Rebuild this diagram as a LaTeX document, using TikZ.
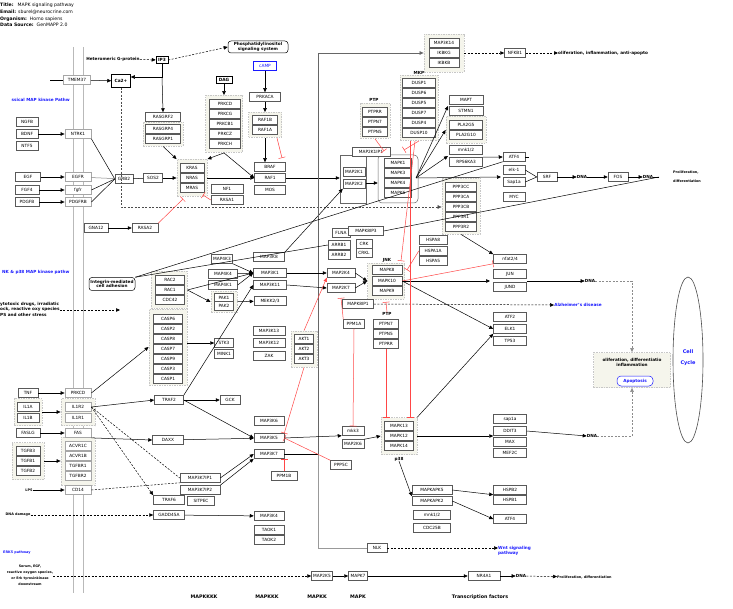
\documentclass[tikz,border=0pt]{standalone}
\usepackage{fontspec}
\setmainfont{DejaVu Sans}
\usetikzlibrary{arrows.meta,shapes.geometric}
\definecolor{grpfill}{RGB}{245,245,236}
\definecolor{inhred}{RGB}{255,70,70}
\definecolor{linkblue}{RGB}{25,25,255}
\definecolor{membgray}{RGB}{185,185,185}
\tikzset{
  gene/.style={draw=black!65, fill=white, line width=0.5pt, inner sep=0pt,
    minimum height=9pt, minimum width=30pt, font=\fontsize{4.3}{5}\selectfont},
  gw/.style={minimum width=#1pt},
  memb/.style={gene, draw=black!35, line width=0.8pt},
  grp/.style={draw=black!22, dash pattern=on 1.5pt off 1pt, fill=grpfill, line width=0.8pt, inner sep=0pt},
  lbl/.style={inner sep=0pt, font=\fontsize{4.2}{5}\selectfont\bfseries},
  blbl/.style={lbl, text=linkblue},
  hdr/.style={inner sep=0pt, anchor=west, font=\fontsize{4.6}{5.5}\selectfont},
  arr/.style={-{Triangle[length=4pt,width=3.5pt]}, line width=0.5pt},
  inh/.style={-{Bar[width=7pt]}, draw=inhred, line width=0.5pt},
  dsh/.style={dash pattern=on 2pt off 1.5pt}
}
\begin{document}
\begin{tikzpicture}[x=1pt,y=-1pt]
\useasboundingbox (0,0) rectangle (733,609);

% header
\node[hdr] (hd1) at (0,5) {\textbf{Title:}\hspace{4pt}MAPK signaling pathway};
\node[hdr] (hd2) at (0,12) {\textbf{Email:}\hspace{2pt}sburel@neurocrine.com};
\node[hdr] (hd3) at (0,19) {\textbf{Organism:}\hspace{3pt}Homo sapiens};
\node[hdr] (hd4) at (0,25) {\textbf{Data Source:}\hspace{3pt}GenMAPP 2.0};

% membrane
\draw[membgray, line width=0.8pt] (73,47) -- (73,593);
\draw[membgray, line width=0.8pt] (83,47) -- (83,593);

% group boxes
\node[grp,minimum width=40pt,minimum height=24pt] (g_rasgrp) at (163,134) {};
\node[grp,minimum width=37pt,minimum height=57pt] (g_prkc) at (224,124) {};
\node[grp,minimum width=33pt,minimum height=25pt] (g_raf) at (265,125) {};
\node[grp,minimum width=30pt,minimum height=37pt] (g_kras) at (192,178) {};
\node[grp,minimum width=40pt,minimum height=38pt] (g_map3k14) at (444,53) {};
\node[grp,minimum width=38pt,minimum height=65pt] (g_mkp) at (419,108) {};
\node[grp,minimum width=30pt,minimum height=35pt] (g_ptp) at (375,121) {};
\node[grp,minimum width=40pt,minimum height=27pt] (g_pla) at (466,130) {};
\node[grp,minimum width=38pt,minimum height=56pt] (g_ppp3) at (461,206) {};
\node[grp,minimum width=37pt,minimum height=36pt] (g_jnk) at (386,281) {};
\node[grp,minimum width=36pt,minimum height=37pt] (g_rac) at (169,290) {};
\node[grp,minimum width=26pt,minimum height=21pt] (g_pak) at (224,302) {};
\node[grp,minimum width=38pt,minimum height=76pt] (g_casp) at (168,347) {};
\node[grp,minimum width=26pt,minimum height=36pt] (g_akt) at (304,349) {};
\node[grp,minimum width=28pt,minimum height=27pt] (g_il1a) at (28,412) {};
\node[grp,minimum width=34pt,minimum height=27pt] (g_il1r) at (78,412) {};
\node[grp,minimum width=32pt,minimum height=37pt] (g_tgfb) at (28,461) {};
\node[grp,minimum width=34pt,minimum height=48pt] (g_acvr) at (78,461) {};
\node[grp,minimum width=36pt,minimum height=37pt] (g_p38) at (399,436) {};
\node[grp,minimum width=77pt,minimum height=35pt] (g_prolif) at (632,370) {};
\node[draw=black!60,line width=0.5pt,minimum width=26pt,minimum height=48pt] (g_map2k1) at (353,179) {};
\node[draw=black!60,line width=0.5pt,rounded corners=4pt,minimum width=40pt,minimum height=48pt] (g_mapk1) at (398,179) {};

% upper left
\node[memb,gw=27] (tmem37) at (77,80) {TMEM37};
\node[gene,gw=19,minimum height=13pt,draw=black,font=\fontsize{4.3}{5}\selectfont\bfseries] (ca2) at (121,81) {Ca2+};
\node[gene,gw=12,minimum height=7pt,draw=black,font=\fontsize{4.3}{5}\selectfont\bfseries] (ip3) at (162,60) {IP3};
\node[lbl] (hetg) at (113,59) {Heteromeric G-protein};
\node[gene,gw=60,minimum height=12pt,rounded corners=3pt,draw=black,align=center,
  font=\fontsize{4.2}{4.6}\selectfont\bfseries] (pis) at (258,47) {Phosphatidylinositol\\signaling system};
\node[gene,gw=23,draw=linkblue,text=linkblue] (camp) at (265,66) {cAMP};
\node[gene,gw=16,minimum height=7pt,draw=black,font=\fontsize{4.3}{5}\selectfont\bfseries] (dag) at (224,80) {DAG};
\node[blbl,anchor=east] (classic) at (70,100) {ssical MAP kinase Pathw};

\node[gene,gw=31] (prkaca) at (265,97) {PRKACA};
\node[gene,gw=25] (raf1b) at (265,120) {RAF1B};
\node[gene,gw=25] (raf1a) at (265,130) {RAF1A};
\node[gene,gw=31] (prkcd) at (225,104) {PRKCD};
\node[gene,gw=31] (prkcg) at (225,114) {PRKCG};
\node[gene,gw=31] (prkcb1) at (225,124) {PRKCB1};
\node[gene,gw=31] (prkcz) at (225,134) {PRKCZ};
\node[gene,gw=31] (prkch) at (225,144) {PRKCH};
\node[gene,gw=35] (rasgrf2) at (163,117) {RASGRF2};
\node[gene,gw=35] (rasgrp4) at (163,129) {RASGRP4};
\node[gene,gw=35] (rasgrp1) at (163,139) {RASGRP1};

\node[gene,gw=22] (ngfb) at (27,122) {NGFB};
\node[gene,gw=22] (bdnf) at (27,134) {BDNF};
\node[gene,gw=22] (ntf5) at (27,146) {NTF5};
\node[memb,gw=26] (ntrk1) at (78,134) {NTRK1};
\node[gene,gw=25] (egf) at (28,177) {EGF};
\node[gene,gw=24] (fgf4) at (27,190) {FGF4};
\node[gene,gw=24] (pdgfb) at (27,202) {PDGFB};
\node[memb,gw=26] (egfr) at (78,177) {EGFR};
\node[memb,gw=26] (fgfr) at (78,190) {fgfr};
\node[memb,gw=26] (pdgfrb) at (78,202) {PDGFRB};
\node[gene,gw=18] (grb2) at (124,179) {GRB2};
\node[gene,gw=19] (sos2) at (153,178) {SOS2};
\node[gene,gw=24] (kras) at (192,168) {KRAS};
\node[gene,gw=24] (nras) at (192,178) {NRAS};
\node[gene,gw=24] (mras) at (192,188) {MRAS};
\node[gene,gw=32] (nf1) at (227,189) {NF1};
\node[gene,gw=32] (rasa1) at (227,200) {RASA1};
\node[gene,gw=24] (gna12) at (96,228) {GNA12};
\node[gene,gw=26] (rasa2) at (145,228) {RASA2};
\node[gene,gw=31] (braf) at (270,167) {BRAF};
\node[gene,gw=31] (raf1) at (270,178) {RAF1};
\node[gene,gw=31] (mos) at (270,190) {MOS};

% ERK cascade
\node[gene,gw=22] (map2k1) at (354,172) {MAP2K1};
\node[gene,gw=22] (map2k2) at (354,184) {MAP2K2};
\node[gene,gw=38] (map2k1ip1) at (371,152) {MAP2K1IP1};
\node[gene,gw=27] (mapk1) at (398,163) {MAPK1};
\node[gene,gw=27] (mapk3) at (398,173) {MAPK3};
\node[gene,gw=27] (mapk4) at (398,183) {MAPK4};
\node[gene,gw=27] (mapk6) at (398,193) {MAPK6};
\node[gene,gw=30] (map3k14) at (444,43) {MAP3K14};
\node[gene,gw=30] (ikbkg) at (444,53) {IKBKG};
\node[gene,gw=30] (ikbkb) at (444,63) {IKBKB};
\node[gene,gw=21] (nfkb1) at (515,53) {NFKB1};
\node[lbl,anchor=west] (prolif0) at (558,53) {oliferation, inflammation, anti-apopto};
\node[lbl] (mkp) at (419,73) {MKP};
\node[gene,gw=33] (dusp1) at (419,83) {DUSP1};
\node[gene,gw=33] (dusp6) at (419,93) {DUSP6};
\node[gene,gw=33] (dusp5) at (419,103) {DUSP5};
\node[gene,gw=33] (dusp7) at (419,113) {DUSP7};
\node[gene,gw=33] (dusp4) at (419,123) {DUSP4};
\node[gene,gw=33] (dusp10) at (419,133) {DUSP10};
\node[lbl] (ptp1) at (374,100) {PTP};
\node[gene,gw=25] (ptprr) at (375,112) {PTPRR};
\node[gene,gw=25] (ptpn7) at (375,122) {PTPN7};
\node[gene,gw=25] (ptpn5) at (375,132) {PTPN5};
\node[gene,gw=34] (mapt) at (466,100) {MAPT};
\node[gene,gw=34] (stmn1) at (466,111) {STMN1};
\node[gene,gw=33] (pla2g5) at (466,125) {PLA2G5};
\node[gene,gw=33] (pla2g10) at (466,135) {PLA2G10};
\node[gene,gw=33] (mnk1) at (466,150) {mnk1/2};
\node[gene,gw=33] (rps6ka3) at (466,162) {RPS6KA3};
\node[gene,gw=22] (atf4a) at (514,157) {ATF4};
\node[gene,gw=22] (elk1a) at (514,170) {elk-1};
\node[gene,gw=22] (sap1b) at (514,182) {Sap1a};
\node[gene,gw=22] (myc) at (514,197) {MYC};
\node[gene,gw=20] (srf) at (547,177) {SRF};
\node[lbl] (dna1) at (582,177) {DNA};
\node[gene,gw=20] (fos) at (618,177) {FOS};
\node[lbl] (dna2) at (648,177) {DNA};
\node[lbl,anchor=west,align=left,font=\fontsize{3.4}{9}\selectfont\bfseries] (prolif1) at (673,177) {Proliferation,\\differentiation};
\node[gene,gw=31] (ppp3cc) at (461,187) {PPP3CC};
\node[gene,gw=31] (ppp3ca) at (461,197) {PPP3CA};
\node[gene,gw=31] (ppp3cb) at (461,207) {PPP3CB};
\node[gene,gw=31] (ppp3r1) at (461,217) {PPP3R1};
\node[gene,gw=31] (ppp3r2) at (461,227) {PPP3R2};

% JNK cascade
\node[gene,gw=18] (flna) at (341,233) {FLNA};
\node[gene,gw=35] (mapk8ip3) at (366,231) {MAPK8IP3};
\node[gene,gw=22] (arrb1) at (339,245) {ARRB1};
\node[gene,gw=22] (arrb2) at (339,255) {ARRB2};
\node[gene,gw=16] (crk) at (364,244) {CRK};
\node[gene,gw=16] (crkl) at (364,253) {CRKL};
\node[gene,gw=28] (hspa8) at (433,240) {HSPA8};
\node[gene,gw=28] (hspa1a) at (433,251) {HSPA1A};
\node[gene,gw=28] (hspa5) at (433,261) {HSPA5};
\node[gene,gw=21] (map4k3) at (222,259) {MAP4K3};
\node[gene,gw=31] (map3k8) at (269,257) {MAP3K8};
\node[gene,gw=29] (map4k4) at (223,274) {MAP4K4};
\node[gene,gw=29] (map4k1) at (223,285) {MAP4K1};
\node[gene,gw=29] (rac2) at (170,280) {RAC2};
\node[gene,gw=29] (rac1) at (170,290) {RAC1};
\node[gene,gw=29] (cdc42) at (170,300) {CDC42};
\node[gene,gw=19] (pak1) at (224,298) {PAK1};
\node[gene,gw=19] (pak2) at (224,306) {PAK2};
\node[gene,gw=32] (mekk23) at (270,301) {MEKK2/3};
\node[gene,gw=33] (map3k1) at (270,273) {MAP3K1};
\node[gene,gw=33] (map3k11) at (270,285) {MAP3K11};
\node[gene,gw=28] (map2k4) at (341,273) {MAP2K4};
\node[gene,gw=28] (map2k7) at (341,288) {MAP2K7};
\node[lbl] (jnk) at (387,260) {JNK};
\node[gene,gw=30] (mapk8) at (387,270) {MAPK8};
\node[gene,gw=30] (mapk10) at (387,281) {MAPK10};
\node[gene,gw=30] (mapk9) at (387,291) {MAPK9};
\node[gene,gw=31] (mapk8ip1) at (358,304) {MAPK8IP1};
\node[gene,gw=21] (ppm1a) at (354,324) {PPM1A};
\node[lbl] (ptp2) at (387,314) {PTP};
\node[gene,gw=25] (ptpn7b) at (386,324) {PTPN7};
\node[gene,gw=25] (ptpn5b) at (386,334) {PTPN5};
\node[gene,gw=25] (ptprrb) at (386,344) {PTPRR};
\node[gene,gw=33] (nfat) at (510,259) {nfat2/4};
\node[gene,gw=33] (jun) at (510,274) {JUN};
\node[gene,gw=33] (jund) at (510,287) {JUND};
\node[gene,gw=33] (atf2) at (510,317) {ATF2};
\node[gene,gw=33] (elk1) at (510,329) {ELK1};
\node[gene,gw=33] (tp53) at (510,341) {TP53};
\node[lbl] (dna4) at (590,281) {DNA};
\node[blbl] (alz) at (578,305) {Alzheimer's disease};
\node[blbl,anchor=west] (jnkpath) at (2,272) {NK \& p38 MAP kinase pathw};
\node[gene,gw=46,minimum height=13pt,rounded corners=3pt,draw=black,align=center,
  font=\fontsize{4.2}{4.6}\selectfont\bfseries] (integrin) at (112,284) {Integrin-mediated\\cell adhesion};
\node[lbl,anchor=west,align=left,font=\fontsize{4.2}{5.5}\selectfont\bfseries] (stress) at (0,309) {ytotoxic drugs, irradiatic\\ock, reactive oxy species\\PS and other stress};
\coordinate (stressend) at (120,310);
\node[gene,gw=29] (casp6) at (168,319) {CASP6};
\node[gene,gw=29] (casp2) at (168,329) {CASP2};
\node[gene,gw=29] (casp8) at (168,339) {CASP8};
\node[gene,gw=29] (casp7) at (168,349) {CASP7};
\node[gene,gw=29] (casp9) at (168,359) {CASP9};
\node[gene,gw=29] (casp3) at (168,369) {CASP3};
\node[gene,gw=29] (casp1) at (168,379) {CASP1};
\node[gene,gw=19] (stk3) at (224,343) {STK3};
\node[gene,gw=19] (mink1) at (224,354) {MINK1};
\node[gene,gw=32] (map3k13) at (269,331) {MAP3K13};
\node[gene,gw=32] (map3k12) at (269,343) {MAP3K12};
\node[gene,gw=32] (zak) at (269,356) {ZAK};
\node[gene,gw=19] (akt1) at (304,339) {AKT1};
\node[gene,gw=19] (akt2) at (304,349) {AKT2};
\node[gene,gw=19] (akt3) at (304,359) {AKT3};

% p38 cascade and receptors
\node[gene,gw=20] (tnf) at (28,393) {TNF};
\node[memb,gw=26] (prkcd2) at (78,393) {PRKCD};
\node[gene,gw=29] (traf2) at (169,400) {TRAF2};
\node[gene,gw=20] (gck) at (230,400) {GCK};
\node[gene,gw=22] (il1a) at (28,407) {IL1A};
\node[gene,gw=22] (il1b) at (28,418) {IL1B};
\node[memb,gw=26] (il1r2) at (78,407) {IL1R2};
\node[memb,gw=26] (il1r1) at (78,418) {IL1R1};
\node[gene,gw=24] (faslg) at (28,433) {FASLG};
\node[memb,gw=26] (fas) at (78,433) {FAS};
\node[gene,gw=24] (tgfb3) at (28,451) {TGFB3};
\node[gene,gw=24] (tgfb1) at (28,461) {TGFB1};
\node[gene,gw=24] (tgfb2) at (28,471) {TGFB2};
\node[memb,gw=26] (acvr1c) at (78,446) {ACVR1C};
\node[memb,gw=26] (acvr1b) at (78,456) {ACVR1B};
\node[memb,gw=26] (tgfbr1) at (78,466) {TGFBR1};
\node[memb,gw=26] (tgfbr2) at (78,476) {TGFBR2};
\node[lbl,font=\fontsize{3.4}{4}\selectfont\bfseries] (lps) at (29,490) {LPS};
\node[memb,gw=26] (cd14) at (78,490) {CD14};
\node[gene,gw=31] (daxx) at (168,440) {DAXX};
\node[gene,gw=30] (map3k6) at (269,421) {MAP3K6};
\node[gene,gw=30] (map3k5) at (269,438) {MAP3K5};
\node[gene,gw=30] (map3k7) at (269,454) {MAP3K7};
\node[gene,gw=26] (ppm1b) at (284,476) {PPM1B};
\node[gene,gw=21] (ppp5c) at (341,465) {PPP5C};
\node[gene,gw=40] (map3k7ip1) at (200,478) {MAP3K7IP1};
\node[gene,gw=40] (map3k7ip2) at (200,490) {MAP3K7IP2};
\node[gene,gw=27] (sitpec) at (201,501) {SITPEC};
\node[gene,gw=31] (traf6) at (169,500) {TRAF6};
\node[gene,gw=31] (gadd45a) at (169,515) {GADD45A};
\node[lbl,font=\fontsize{3.4}{4}\selectfont\bfseries] (dnadmg) at (18,515) {DNA damage};
\node[gene,gw=30] (map3k4) at (269,516) {MAP3K4};
\node[gene,gw=30] (taok1) at (269,530) {TAOK1};
\node[gene,gw=30] (taok2) at (269,540) {TAOK2};
\node[gene,gw=22] (mkk3) at (353,431) {mkk3};
\node[gene,gw=22] (map2k6) at (353,444) {MAP2K6};
\node[gene,gw=29] (mapk13) at (399,426) {MAPK13};
\node[gene,gw=29] (mapk12) at (399,436) {MAPK12};
\node[gene,gw=29] (mapk14) at (399,446) {MAPK14};
\node[lbl] (p38) at (399,459) {p38};
\node[gene,gw=33] (sap1a) at (510,419) {sap1a};
\node[gene,gw=33] (ddit3) at (510,431) {DDIT3};
\node[gene,gw=33] (max) at (510,442) {MAX};
\node[gene,gw=33] (mef2c) at (510,453) {MEF2C};
\node[lbl] (dna3) at (592,436) {DNA};
\node[gene,gw=40] (mapkapk5) at (432,490) {MAPKAPK5};
\node[gene,gw=40] (mapkapk2) at (432,501) {MAPKAPK2};
\node[gene,gw=37] (mnk12b) at (432,515) {mnk1/2};
\node[gene,gw=37] (cdc25b) at (432,528) {CDC25B};
\node[gene,gw=33] (hspb2) at (510,490) {HSPB2};
\node[gene,gw=33] (hspb1) at (510,500) {HSPB1};
\node[gene,gw=33] (atf4b) at (510,519) {ATF4};

% cell fate box and cell cycle
\node[lbl,align=center,font=\fontsize{4.2}{5}\selectfont\bfseries] (fate) at (632,362) {oliferation, differentiatio\\inflammation};
\node[gene,gw=36,minimum height=10pt,rounded corners=4pt,draw=linkblue,text=linkblue,
  font=\fontsize{4.2}{5}\selectfont\bfseries] (apop) at (635,381) {Apoptosis};
\node[draw=black!70,line width=0.6pt,ellipse,minimum width=30pt,minimum height=166pt] (cellcyc) at (688,360) {};
\node[blbl,align=center,font=\fontsize{5}{11}\selectfont\bfseries] (cyctxt) at (688,358) {Cell\\Cycle};

% bottom rows
\node[gene,gw=20] (nlk) at (377,548) {NLK};
\node[blbl,anchor=west,align=left] (wnt) at (498,551) {Wnt signaling\\pathway};
\node[blbl,anchor=west,font=\fontsize{3.4}{4}\selectfont\bfseries] (erk5) at (3,553) {ERK5 pathway};
\node[lbl,align=center,font=\fontsize{3.3}{6}\selectfont\bfseries] (serum) at (30,575) {Serum, EGF,\\reactive oxygen species,\\or Erk tyrosinkinase\\downstream};
\node[gene,gw=21] (map2k5) at (322,576) {MAP2K5};
\node[gene,gw=19] (mapk7) at (358,576) {MAPK7};
\node[gene,gw=32] (nr4a1) at (484,576) {NR4A1};
\node[lbl] (dna5) at (521,576) {DNA};
\node[lbl,anchor=west,font=\fontsize{3.4}{4}\selectfont\bfseries] (prolif3) at (557,577) {Proliferation, differentiation};
\node[lbl,font=\fontsize{4.8}{5}\selectfont\bfseries] (ax1) at (204,597) {MAPKKKK};
\node[lbl,font=\fontsize{4.8}{5}\selectfont\bfseries] (ax2) at (267,597) {MAPKKK};
\node[lbl,font=\fontsize{4.8}{5}\selectfont\bfseries] (ax3) at (317,597) {MAPKK};
\node[lbl,font=\fontsize{4.8}{5}\selectfont\bfseries] (ax4) at (358,597) {MAPK};
\node[lbl,font=\fontsize{4.8}{5}\selectfont\bfseries] (ax5) at (480,597) {Transcription factors};

% connectors, upper part
\coordinate (tmin) at (50,80);
\draw[line width=0.5pt] (tmin) -- (tmem37);
\draw[arr] (tmem37) -- (ca2);
\draw[arr,dsh] (hetg) -- (ip3);
\draw[arr,dsh] (ip3.east) -- (pis.west);
\coordinate (cip) at (162,77);
\draw[arr] (ip3.south) -- (cip) -- (ca2.east |- cip);
\draw[arr] (cip) -- (rasgrf2.north);
\draw[arr,dsh,black!70] (ca2.south) -- (ca2.south |- ppp3cb.west) -- (g_ppp3.west |- ppp3cb.west);
\draw[arr] (g_rasgrp.south) -- (g_kras.north west);
\draw[arr] (dag) -- (g_prkc.north);
\draw[arr] (camp) -- (prkaca);
\draw[arr] (prkaca) -- (g_raf.north);
\draw[arr] (g_raf.south) -- (braf.north -| g_raf.south);
\draw[inh] (277,138) -- (282,158);
\draw[arr] (g_prkc.south) -- (g_kras.north east);
\draw[arr] (g_prkc.south) -- (raf1.west);
\draw[arr] (g_kras.east |- raf1.west) -- (raf1.west);
\draw[arr] (bdnf) -- (ntrk1);
\draw[arr] (egf) -- (egfr);
\draw[arr] (fgf4) -- (fgfr);
\draw[arr] (pdgfb) -- (pdgfrb);
\draw[line width=0.5pt] (ntrk1.south east) -- (grb2.west);
\draw[line width=0.5pt,black!50] (egfr) -- (grb2);
\draw[line width=0.5pt] (fgfr.east) -- (grb2.west);
\draw[line width=0.5pt] (pdgfrb.east) -- (grb2.west);
\draw[line width=0.5pt] (grb2) -- (sos2);
\draw[arr] (sos2) -- (g_kras.west |- sos2.east);
\draw[arr] (gna12) -- (rasa2);
\draw[inh] (rasa2.north east) -- (183,199);
\draw[inh] (rasa1.west) -- (203,195);
\draw[arr] (raf1.east) -- (g_map2k1.west |- raf1.east);
\draw[arr] (map3k8.north east) -- (map2k2.south west);
\draw[arr] (g_map2k1.east |- mapk4.west) -- (g_mapk1.west |- mapk4.west);
\draw[inh] (g_ptp.south) -- (384,151);
\draw[inh] (g_mkp.south) -- (404,150);
\coordinate (mkout) at (416,178);
\draw[arr] (mkout) -- (448,106);
\draw[arr] (mkout) -- (g_pla.west);
\draw[arr] (mkout) -- (448,156);
\coordinate (elkin) at (501,177);
\draw[arr] (mkout) -- (elkin);
\draw[arr] (rps6ka3.north east) -- (atf4a.west);
\coordinate (atfstub) at (529,157);
\draw[line width=0.5pt] (atf4a.east) -- (atfstub);
\draw[line width=0.5pt] (elk1a.east) -- (srf.west);
\draw[line width=0.5pt] (sap1b.east) -- (srf.west);
\draw[arr] (srf) -- (dna1);
\draw[arr] (dna1) -- (fos);
\draw[arr] (fos) -- (dna2);
\coordinate (dnastub) at (659,177);
\draw[line width=0.5pt] (dna2.east) -- (dnastub);
\coordinate (k7r) at (318,454);
\draw[line width=0.5pt] (map3k7.east |- k7r) -- (k7r);
\draw[arr,black!60,line width=0.7pt] (k7r) -- (318,53) -- (g_map3k14.west);
\draw[black!40,line width=0.7pt] (k7r) |- (nlk.west);
\draw[arr,dsh] (g_map3k14.east) -- (nfkb1.west);
\draw[arr,dsh] (nfkb1.east) -- (prolif0.west);

% connectors, JNK part
\draw[line width=0.5pt] (integrin.north east) -- (arrb1.west);
\draw[line width=0.5pt] (integrin.north east) -- (atf4a.south west);
\draw[line width=0.5pt] (mapk8ip3.east) -- (dnastub);
\draw[arr] (map4k3.south east) -- (map3k1.west);
\draw[arr] (map4k4) -- (map3k1);
\draw[arr] (map4k1.east) -- (map3k1.west);
\draw[arr] (g_rac.east) -- (map3k1.west);
\draw[arr] (g_rac.east) -- (g_pak.west);
\draw[arr] (traf2.north east) -- (map3k11.west);
\draw[arr] (g_pak) -- (mekk23);
\draw[arr] (map3k1) -- (map2k4);
\draw[arr] (map3k11.east) -- (map2k7.west);
\draw[arr] (map2k4.east) -- (g_jnk.west |- mapk10.west);
\draw[arr] (map2k7.east) -- (g_jnk.west |- mapk10.west);
\draw[inh] (hspa1a.west) -- (407,270);
\draw[inh] (415,141) -- (401,261);
\draw[inh] (mapk10.east) -- (nfat.south west);
\draw[arr] (g_ppp3.south) -- (nfat.north west);
\coordinate (junin) at (490,281);
\draw[arr] (mapk10.east) -- (junin);
\draw[arr] (mapk10.east) -- (elk1.west);
\coordinate (junout) at (527,281);
\draw[arr] (junout) -- (dna4.west);
\draw[arr,dsh,black!45] (dna4.east) -| (g_prolif.north);
\draw[arr,dsh] (mapk8ip1.east) -- (alz.west);
\draw[inh] (ptp2.north) -- (386,302);
\draw[inh] (ppm1a.north west) -- (341,298);
\draw[inh] (ppm1a.south) -- (mkk3.north);
\draw[arr,dsh] (stress.east |- stressend) -- (stressend);
\draw[arr] (g_casp.east |- stk3.west) -- (stk3.west);
\draw[arr] (prkcd2.east) -- (g_casp.west);
\draw[inh] (g_akt.south) -- (map3k5.north east);
\draw[arr,inhred] (g_akt.north) -- (map2k4.south west);

% connectors, p38 part
\draw[arr] (tnf) -- (prkcd2);
\draw[arr] (g_il1a) -- (g_il1r);
\draw[arr] (faslg) -- (fas);
\draw[arr] (g_tgfb) -- (g_acvr);
\draw[arr] (lps) -- (cd14);
\draw[arr] (il1r2.east) -- (traf2.west);
\draw[arr,dsh] (il1r2.east) -- (traf6.north west);
\draw[dsh,line width=0.5pt] (il1r2.east) -- (map3k7ip1.west);
\draw[dsh,line width=0.5pt] (cd14.east) -- (map3k7ip1.south west);
\draw[arr] (fas.south east) -- (daxx.west);
\draw[arr] (traf2) -- (gck);
\draw[arr] (traf2.east) -- (map3k5.west);
\draw[arr] (daxx) -- (map3k5);
\draw[arr] (map3k7ip1.east) -- (map3k7.west);
\draw[arr] (map3k7ip2.north east) -- (map3k7.south west);
\draw[inh] (ppm1b.north) -- (map3k7.south -| ppm1b.north);
\draw[inh] (ppp5c.north west) -- (map3k5.east);
\draw[arr,dsh] (dnadmg) -- (gadd45a);
\draw[arr] (gadd45a) -- (map3k4);
\draw[arr] (map3k5.east) -- (mkk3.south west);
\draw[arr] (map2k6.north east) -- (g_p38.west);
\draw[inh] (ptprrb.south) -- (g_p38.north -| ptprrb.south);
\draw[inh] (410,141) -- (410,417);
\draw[arr] (g_p38.east) -- (ddit3.west |- g_p38.east);
\draw[arr] (g_p38.north east) -- (elk1.south west);
\draw[arr] (p38.south) -- (mapkapk2.north west);
\draw[arr] (mapkapk5.east) -- (hspb2.south west);
\draw[arr] (mapkapk2.east) -- (atf4b.west);
\draw[arr] (ddit3.east) -- (dna3.west);
\draw[arr,dsh,black!45] (dna3.east) -| (g_prolif.south);
\draw[arr,dsh] (nlk) -- (wnt.west |- nlk.east);
\draw[arr,dsh] (serum.east |- map2k5.west) -- (map2k5.west);
\draw[arr] (map2k5) -- (mapk7);
\draw[arr] (mapk7) -- (nr4a1);
\draw[arr] (nr4a1) -- (dna5);
\draw[arr,dsh] (dna5) -- (prolif3);
\end{tikzpicture}
\end{document}
